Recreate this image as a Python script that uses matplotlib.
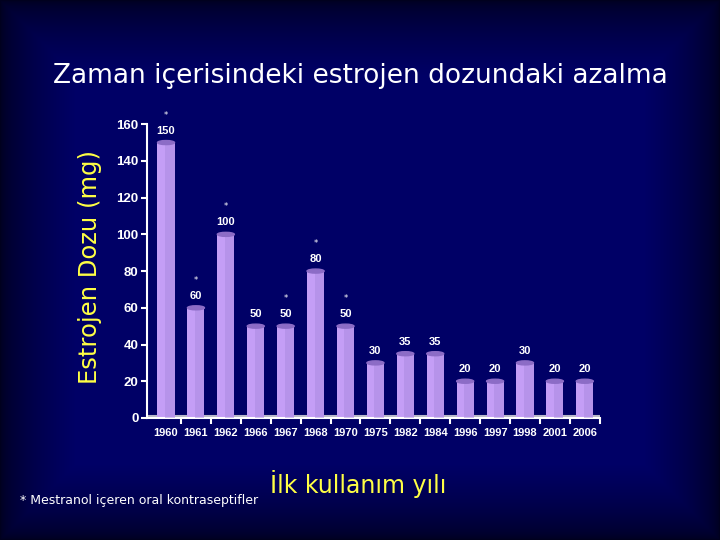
import numpy as np
import matplotlib.pyplot as plt
from matplotlib.patches import Ellipse

years = ['1960', '1961', '1962', '1966', '1967', '1968', '1970', '1975',
         '1982', '1984', '1996', '1997', '1998', '2001', '2006']
doses = [150, 60, 100, 50, 50, 80, 50, 30, 35, 35, 20, 20, 30, 20, 20]
mestranol = [True, True, True, False, True, True, True, False,
             False, False, False, False, False, False, False]
yticks = [0, 20, 40, 60, 80, 100, 120, 140, 160]

fig = plt.figure(figsize=(7.2, 5.4), dpi=100)

# background: navy with darker edges
bg = fig.add_axes([0, 0, 1, 1])
h, w = 540, 720
yy, xx = np.mgrid[0:h, 0:w]
d = np.minimum.reduce([xx, w - 1 - xx, yy, h - 1 - yy]) / 75.0
f = np.clip(d, 0, 1) ** 0.6
img = np.zeros((h, w, 3))
img[..., 2] = 0.12 + (0.40 - 0.12) * f
bg.imshow(img, aspect='auto', extent=[0, 1, 0, 1])
bg.axis('off')

ax = fig.add_axes([0.204, 0.226, 0.629, 0.544])
ax.patch.set_alpha(0)
n = len(years)
x = np.arange(n)
bw = 0.57
ax.bar(x, doses, width=bw, color='#c49ef6', zorder=2)
ax.bar(x + bw * 0.22, doses, width=bw * 0.56, color='#a98ae0', alpha=0.5, zorder=3)
for i, v in enumerate(doses):
    ax.add_patch(Ellipse((i, v), bw, 2.2, color='#8c6cc6', zorder=4))
    ax.text(i, v + 6.5, str(v), color='white', fontsize=8, fontweight='bold',
            ha='center', va='center', family='Liberation Sans')
    if mestranol[i]:
        ax.text(i, v + 15, '*', color='white', fontsize=6, ha='center',
                va='center', clip_on=False)

ax.set_xlim(-0.64, n - 0.5)
ax.set_ylim(0, 160)
ax.set_yticks(yticks)
ax.set_yticklabels([str(t) for t in yticks], color='white', fontsize=9.5,
                   fontweight='bold', family='Liberation Sans')
ax.set_xticks(x)
ax.set_xticklabels(years, color='white', fontsize=8, fontweight='bold',
                   family='Liberation Sans')
ax.set_xticks(np.arange(n) + 0.5, minor=True)
ax.tick_params(axis='x', which='major', length=0, pad=7)
ax.tick_params(axis='x', which='minor', length=4, color='white', width=1.5)
ax.tick_params(axis='y', length=4, color='white', width=1.5, pad=2)
for s in ['top', 'right']:
    ax.spines[s].set_visible(False)
ax.spines['left'].set_color('white')
ax.spines['left'].set_linewidth(1.5)
ax.spines['bottom'].set_color('white')
ax.spines['bottom'].set_linewidth(1.5)
ax.axhline(1.2, color='#b8b8c8', lw=1.5, zorder=1)

fig.text(0.5, 0.86, 'Zaman içerisindeki estrojen dozundaki azalma', color='white',
         fontsize=19, ha='center', va='center', family='DejaVu Sans')
fig.text(0.125, 0.505, 'Estrojen Dozu (mg)', color='#ffff44', fontsize=17.5,
         rotation=90, ha='center', va='center', family='DejaVu Sans')
fig.text(0.497, 0.103, 'İlk kullanım yılı', color='#ffff44', fontsize=17,
         ha='center', va='center', family='DejaVu Sans')
fig.text(0.028, 0.073, '* Mestranol içeren oral kontraseptifler', color='white',
         fontsize=9, ha='left', va='center', family='DejaVu Sans')

fig.savefig('out.png', dpi=100)
